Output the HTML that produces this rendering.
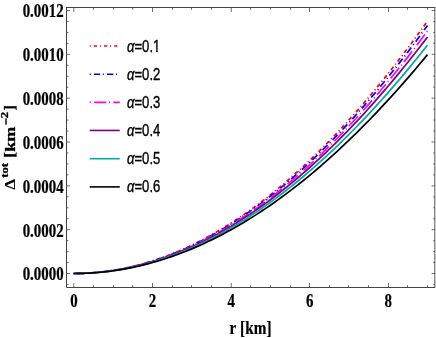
<!DOCTYPE html>
<html><head><meta charset="utf-8"><title>plot</title>
<style>
html,body{margin:0;padding:0;background:#fff;}
body{width:436px;height:338px;overflow:hidden;}
svg{display:block;will-change:transform;}
.tl{font-family:"Liberation Serif",serif;font-weight:bold;font-size:14.90px;fill:#000;stroke:#000;stroke-width:0.18px;}
.yl{font-family:"Liberation Serif",serif;font-weight:bold;fill:#000;stroke:#000;stroke-width:0.3px;}
.lg{font-family:"Liberation Sans",sans-serif;font-size:13.1px;fill:#000;stroke:#000;stroke-width:0.3px;}
</style></head><body>
<svg width="436" height="338" viewBox="0 0 436 338">
<rect width="436" height="338" fill="#fff"/>
<path d="M74.00,273.50 L77.93,273.47 L81.86,273.37 L85.78,273.22 L89.71,272.99 L93.64,272.71 L97.57,272.36 L101.50,271.95 L105.42,271.48 L109.35,270.94 L113.28,270.34 L117.21,269.68 L121.14,268.95 L125.06,268.16 L128.99,267.31 L132.92,266.39 L136.85,265.41 L140.78,264.37 L144.70,263.27 L148.63,262.10 L152.56,260.87 L156.49,259.58 L160.42,258.22 L164.34,256.80 L168.27,255.32 L172.20,253.77 L176.13,252.16 L180.06,250.49 L183.98,248.76 L187.91,246.96 L191.84,245.10 L195.77,243.18 L199.70,241.20 L203.62,239.15 L207.55,237.04 L211.48,234.87 L215.41,232.64 L219.34,230.34 L223.26,227.98 L227.19,225.56 L231.12,223.08 L235.05,220.53 L238.98,217.93 L242.90,215.26 L246.83,212.52 L250.76,209.73 L254.69,206.88 L258.62,203.96 L262.54,200.98 L266.47,197.94 L270.40,194.84 L274.33,191.67 L278.26,188.45 L282.18,185.16 L286.11,181.81 L290.04,178.40 L293.97,174.93 L297.90,171.40 L301.82,167.81 L305.75,164.15 L309.68,160.44 L313.61,156.66 L317.54,152.83 L321.46,148.93 L325.39,144.97 L329.32,140.95 L333.25,136.87 L337.18,132.73 L341.10,128.53 L345.03,124.27 L348.96,119.95 L352.89,115.57 L356.82,111.13 L360.74,106.63 L364.67,102.07 L368.60,97.45 L372.53,92.77 L376.46,88.03 L380.38,83.24 L384.31,78.38 L388.24,73.46 L392.17,68.49 L396.10,63.45 L400.02,58.36 L403.95,53.21 L407.88,48.00 L411.81,42.73 L415.74,37.40 L419.66,32.01 L423.59,26.57 L427.52,21.07" fill="none" stroke="#ff0000" stroke-width="1.72" stroke-dasharray="4.2 2.8 1.1 2.82" stroke-dashoffset="3.59"/>
<path d="M74.00,273.50 L77.93,273.47 L81.86,273.38 L85.78,273.22 L89.71,273.00 L93.64,272.72 L97.57,272.38 L101.50,271.98 L105.42,271.51 L109.35,270.99 L113.28,270.40 L117.21,269.74 L121.14,269.03 L125.06,268.25 L128.99,267.42 L132.92,266.52 L136.85,265.55 L140.78,264.53 L144.70,263.44 L148.63,262.30 L152.56,261.09 L156.49,259.82 L160.42,258.48 L164.34,257.09 L168.27,255.63 L172.20,254.11 L176.13,252.53 L180.06,250.89 L183.98,249.19 L187.91,247.42 L191.84,245.60 L195.77,243.71 L199.70,241.76 L203.62,239.75 L207.55,237.67 L211.48,235.54 L215.41,233.34 L219.34,231.09 L223.26,228.77 L227.19,226.39 L231.12,223.95 L235.05,221.45 L238.98,218.89 L242.90,216.27 L246.83,213.58 L250.76,210.84 L254.69,208.03 L258.62,205.16 L262.54,202.24 L266.47,199.25 L270.40,196.20 L274.33,193.09 L278.26,189.92 L282.18,186.69 L286.11,183.40 L290.04,180.05 L293.97,176.64 L297.90,173.17 L301.82,169.64 L305.75,166.05 L309.68,162.40 L313.61,158.69 L317.54,154.92 L321.46,151.09 L325.39,147.20 L329.32,143.26 L333.25,139.25 L337.18,135.18 L341.10,131.06 L345.03,126.87 L348.96,122.63 L352.89,118.32 L356.82,113.96 L360.74,109.54 L364.67,105.06 L368.60,100.52 L372.53,95.93 L376.46,91.27 L380.38,86.56 L384.31,81.79 L388.24,76.96 L392.17,72.07 L396.10,67.12 L400.02,62.12 L403.95,57.06 L407.88,51.94 L411.81,46.76 L415.74,41.53 L419.66,36.24 L423.59,30.89 L427.52,25.49" fill="none" stroke="#0000ff" stroke-width="1.72" stroke-dasharray="7.0 3.05 1.2 3.05" stroke-dashoffset="1.15"/>
<path d="M74.00,273.50 L77.93,273.47 L81.86,273.38 L85.78,273.23 L89.71,273.01 L93.64,272.74 L97.57,272.41 L101.50,272.01 L105.42,271.56 L109.35,271.04 L113.28,270.46 L117.21,269.83 L121.14,269.13 L125.06,268.37 L128.99,267.55 L132.92,266.67 L136.85,265.73 L140.78,264.73 L144.70,263.67 L148.63,262.54 L152.56,261.36 L156.49,260.12 L160.42,258.81 L164.34,257.45 L168.27,256.02 L172.20,254.54 L176.13,252.99 L180.06,251.39 L183.98,249.72 L187.91,248.00 L191.84,246.21 L195.77,244.36 L199.70,242.46 L203.62,240.49 L207.55,238.46 L211.48,236.37 L215.41,234.23 L219.34,232.02 L223.26,229.75 L227.19,227.43 L231.12,225.04 L235.05,222.60 L238.98,220.09 L242.90,217.53 L246.83,214.90 L250.76,212.22 L254.69,209.47 L258.62,206.67 L262.54,203.81 L266.47,200.89 L270.40,197.91 L274.33,194.87 L278.26,191.77 L282.18,188.61 L286.11,185.39 L290.04,182.12 L293.97,178.78 L297.90,175.39 L301.82,171.94 L305.75,168.43 L309.68,164.86 L313.61,161.23 L317.54,157.54 L321.46,153.80 L325.39,150.00 L329.32,146.14 L333.25,142.22 L337.18,138.24 L341.10,134.21 L345.03,130.12 L348.96,125.97 L352.89,121.76 L356.82,117.49 L360.74,113.17 L364.67,108.79 L368.60,104.36 L372.53,99.86 L376.46,95.31 L380.38,90.70 L384.31,86.04 L388.24,81.32 L392.17,76.54 L396.10,71.71 L400.02,66.81 L403.95,61.87 L407.88,56.86 L411.81,51.81 L415.74,46.69 L419.66,41.52 L423.59,36.29 L427.52,31.01" fill="none" stroke="#ff00ff" stroke-width="1.72" stroke-dasharray="13.5 3.05 1.1 3.48" stroke-dashoffset="17.24"/>
<path d="M73.40,273.50 L74.00,273.50 L77.93,273.47 L81.86,273.38 L85.78,273.23 L89.71,273.03 L93.64,272.76 L97.57,272.43 L101.50,272.05 L105.42,271.60 L109.35,271.10 L113.28,270.54 L117.21,269.91 L121.14,269.23 L125.06,268.49 L128.99,267.69 L132.92,266.83 L136.85,265.92 L140.78,264.94 L144.70,263.90 L148.63,262.81 L152.56,261.65 L156.49,260.44 L160.42,259.17 L164.34,257.84 L168.27,256.45 L172.20,255.00 L176.13,253.49 L180.06,251.92 L183.98,250.30 L187.91,248.61 L191.84,246.87 L195.77,245.07 L199.70,243.21 L203.62,241.29 L207.55,239.31 L211.48,237.27 L215.41,235.18 L219.34,233.03 L223.26,230.81 L227.19,228.54 L231.12,226.22 L235.05,223.83 L238.98,221.39 L242.90,218.88 L246.83,216.32 L250.76,213.70 L254.69,211.03 L258.62,208.29 L262.54,205.50 L266.47,202.65 L270.40,199.74 L274.33,196.78 L278.26,193.75 L282.18,190.67 L286.11,187.53 L290.04,184.34 L293.97,181.08 L297.90,177.77 L301.82,174.41 L305.75,170.98 L309.68,167.50 L313.61,163.96 L317.54,160.37 L321.46,156.71 L325.39,153.00 L329.32,149.24 L333.25,145.42 L337.18,141.54 L341.10,137.60 L345.03,133.61 L348.96,129.56 L352.89,125.46 L356.82,121.30 L360.74,117.08 L364.67,112.81 L368.60,108.49 L372.53,104.10 L376.46,99.66 L380.38,95.17 L384.31,90.62 L388.24,86.02 L392.17,81.36 L396.10,76.64 L400.02,71.87 L403.95,67.05 L407.88,62.17 L411.81,57.24 L415.74,52.25 L419.66,47.20 L423.59,42.11 L427.52,36.96" fill="none" stroke="#800080" stroke-width="1.72"/>
<path d="M73.40,273.50 L74.00,273.50 L77.93,273.47 L81.86,273.39 L85.78,273.24 L89.71,273.04 L93.64,272.78 L97.57,272.47 L101.50,272.10 L105.42,271.67 L109.35,271.18 L113.28,270.64 L117.21,270.04 L121.14,269.38 L125.06,268.66 L128.99,267.89 L132.92,267.06 L136.85,266.17 L140.78,265.23 L144.70,264.23 L148.63,263.17 L152.56,262.05 L156.49,260.88 L160.42,259.65 L164.34,258.37 L168.27,257.02 L172.20,255.62 L176.13,254.17 L180.06,252.65 L183.98,251.08 L187.91,249.45 L191.84,247.77 L195.77,246.03 L199.70,244.23 L203.62,242.38 L207.55,240.47 L211.48,238.50 L215.41,236.48 L219.34,234.40 L223.26,232.26 L227.19,230.07 L231.12,227.82 L235.05,225.51 L238.98,223.15 L242.90,220.74 L246.83,218.26 L250.76,215.73 L254.69,213.15 L258.62,210.50 L262.54,207.81 L266.47,205.05 L270.40,202.24 L274.33,199.38 L278.26,196.46 L282.18,193.48 L286.11,190.45 L290.04,187.37 L293.97,184.22 L297.90,181.03 L301.82,177.78 L305.75,174.47 L309.68,171.11 L313.61,167.69 L317.54,164.22 L321.46,160.69 L325.39,157.11 L329.32,153.47 L333.25,149.78 L337.18,146.03 L341.10,142.23 L345.03,138.38 L348.96,134.47 L352.89,130.51 L356.82,126.49 L360.74,122.42 L364.67,118.30 L368.60,114.12 L372.53,109.89 L376.46,105.60 L380.38,101.26 L384.31,96.87 L388.24,92.43 L392.17,87.93 L396.10,83.38 L400.02,78.77 L403.95,74.12 L407.88,69.41 L411.81,64.64 L415.74,59.83 L419.66,54.96 L423.59,50.04 L427.52,45.07" fill="none" stroke="#00aaaa" stroke-width="1.72"/>
<path d="M73.40,273.50 L74.00,273.50 L77.93,273.47 L81.86,273.39 L85.78,273.25 L89.71,273.06 L93.64,272.81 L97.57,272.51 L101.50,272.15 L105.42,271.74 L109.35,271.28 L113.28,270.75 L117.21,270.18 L121.14,269.55 L125.06,268.86 L128.99,268.12 L132.92,267.32 L136.85,266.47 L140.78,265.57 L144.70,264.61 L148.63,263.59 L152.56,262.52 L156.49,261.40 L160.42,260.22 L164.34,258.99 L168.27,257.70 L172.20,256.36 L176.13,254.96 L180.06,253.51 L183.98,252.00 L187.91,250.44 L191.84,248.83 L195.77,247.16 L199.70,245.44 L203.62,243.66 L207.55,241.83 L211.48,239.94 L215.41,238.00 L219.34,236.01 L223.26,233.96 L227.19,231.86 L231.12,229.70 L235.05,227.49 L238.98,225.22 L242.90,222.91 L246.83,220.54 L250.76,218.11 L254.69,215.63 L258.62,213.10 L262.54,210.51 L266.47,207.87 L270.40,205.18 L274.33,202.44 L278.26,199.64 L282.18,196.78 L286.11,193.88 L290.04,190.92 L293.97,187.91 L297.90,184.84 L301.82,181.73 L305.75,178.56 L309.68,175.33 L313.61,172.06 L317.54,168.73 L321.46,165.35 L325.39,161.92 L329.32,158.43 L333.25,154.90 L337.18,151.31 L341.10,147.67 L345.03,143.97 L348.96,140.23 L352.89,136.43 L356.82,132.58 L360.74,128.68 L364.67,124.73 L368.60,120.73 L372.53,116.67 L376.46,112.57 L380.38,108.41 L384.31,104.20 L388.24,99.95 L392.17,95.64 L396.10,91.28 L400.02,86.87 L403.95,82.40 L407.88,77.89 L411.81,73.33 L415.74,68.72 L419.66,64.06 L423.59,59.35 L427.52,54.58" fill="none" stroke="#000000" stroke-width="1.72"/>
<g stroke="#444" stroke-width="1" fill="none" shape-rendering="auto">
<path d="M66.50,7.00V287.50H435.30M66.50,7.50H435.30"/>
<path d="M434.80,7.50V287.50" stroke="#555"/>
<path d="M73.80,287.50v-4.50M73.80,7.50v4.50M93.50,287.50v-2.30M93.50,7.50v2.30M113.50,287.50v-2.30M113.50,7.50v2.30M132.70,287.50v-2.30M132.70,7.50v2.30M152.50,287.50v-4.50M152.50,7.50v4.50M172.50,287.50v-2.30M172.50,7.50v2.30M191.50,287.50v-2.30M191.50,7.50v2.30M211.50,287.50v-2.30M211.50,7.50v2.30M231.25,287.50v-4.50M231.25,7.50v4.50M250.50,287.50v-2.30M250.50,7.50v2.30M270.50,287.50v-2.30M270.50,7.50v2.30M290.50,287.50v-2.30M290.50,7.50v2.30M309.50,287.50v-4.50M309.50,7.50v4.50M329.50,287.50v-2.30M329.50,7.50v2.30M348.50,287.50v-2.30M348.50,7.50v2.30M368.50,287.50v-2.30M368.50,7.50v2.30M388.50,287.50v-4.50M388.50,7.50v4.50M407.50,287.50v-2.30M407.50,7.50v2.30M427.50,287.50v-2.30M427.50,7.50v2.30M66.50,284.46h2.00M434.80,284.46h-1.60M66.50,273.50h3.50M434.80,273.50h-3.10M66.50,262.54h2.00M434.80,262.54h-1.60M66.50,251.58h2.00M434.80,251.58h-1.60M66.50,240.62h2.00M434.80,240.62h-1.60M66.50,229.67h3.50M434.80,229.67h-3.10M66.50,218.71h2.00M434.80,218.71h-1.60M66.50,207.75h2.00M434.80,207.75h-1.60M66.50,196.79h2.00M434.80,196.79h-1.60M66.50,185.83h3.50M434.80,185.83h-3.10M66.50,174.87h2.00M434.80,174.87h-1.60M66.50,163.92h2.00M434.80,163.92h-1.60M66.50,152.96h2.00M434.80,152.96h-1.60M66.50,142.00h3.50M434.80,142.00h-3.10M66.50,131.04h2.00M434.80,131.04h-1.60M66.50,120.08h2.00M434.80,120.08h-1.60M66.50,109.12h2.00M434.80,109.12h-1.60M66.50,98.17h3.50M434.80,98.17h-3.10M66.50,87.21h2.00M434.80,87.21h-1.60M66.50,76.25h2.00M434.80,76.25h-1.60M66.50,65.29h2.00M434.80,65.29h-1.60M66.50,54.33h3.50M434.80,54.33h-3.10M66.50,43.37h2.00M434.80,43.37h-1.60M66.50,32.42h2.00M434.80,32.42h-1.60M66.50,21.46h2.00M434.80,21.46h-1.60M66.50,10.50h3.50M434.80,10.50h-3.10" stroke-width="0.75" stroke="#3a3a3a"/>
</g>
<text class="tl" text-anchor="middle" transform="translate(74.00,307.10) scale(1,1.306)">0</text>
<text class="tl" text-anchor="middle" transform="translate(152.56,307.10) scale(1,1.306)">2</text>
<text class="tl" text-anchor="middle" transform="translate(231.12,307.10) scale(1,1.306)">4</text>
<text class="tl" text-anchor="middle" transform="translate(309.68,307.10) scale(1,1.306)">6</text>
<text class="tl" text-anchor="middle" transform="translate(388.24,307.10) scale(1,1.306)">8</text>
<text class="tl" text-anchor="end" transform="translate(63.60,280.40) scale(1,1.306)">0.0000</text>
<text class="tl" text-anchor="end" transform="translate(63.60,236.57) scale(1,1.306)">0.0002</text>
<text class="tl" text-anchor="end" transform="translate(63.60,192.73) scale(1,1.306)">0.0004</text>
<text class="tl" text-anchor="end" transform="translate(63.60,148.90) scale(1,1.306)">0.0006</text>
<text class="tl" text-anchor="end" transform="translate(63.60,105.07) scale(1,1.306)">0.0008</text>
<text class="tl" text-anchor="end" transform="translate(63.60,61.23) scale(1,1.306)">0.0010</text>
<text class="tl" text-anchor="end" transform="translate(63.60,17.40) scale(1,1.306)">0.0012</text>
<text class="tl" style="font-size:15.2px" text-anchor="middle" letter-spacing="0.12" transform="translate(250.70,333.90) scale(1,1.170)">r [km]</text>
<text class="yl" style="stroke-width:0.05px" font-size="15.20px" transform="translate(15.10,189.64) scale(1,1.137) rotate(-90)">Δ</text>
<text class="yl" style="stroke-width:0.30px" font-size="10.90px" transform="translate(8.20,177.80) scale(1,1.169) rotate(-90)">tot</text>
<text class="yl" style="stroke-width:0.30px" font-size="14.70px" transform="translate(14.30,157.73) scale(1,1.186) rotate(-90)">[</text>
<text class="yl" style="stroke-width:0.30px" font-size="15.20px" transform="translate(15.10,151.73) scale(1,1.186) rotate(-90)">km</text>
<rect x="5.3" y="118.3" width="1.4" height="6.4" fill="#000"/>
<text class="yl" style="stroke-width:0.30px" font-size="10.90px" transform="translate(8.40,118.24) scale(1,1.170) rotate(-90)">2</text>
<text class="yl" style="stroke-width:0.30px" font-size="14.70px" transform="translate(14.30,110.45) scale(1,1.100) rotate(-90)">]</text>
<path d="M89.7,46.00H117.5" stroke="#ff0000" stroke-width="1.6" fill="none" stroke-dasharray="1.1 3.0 3.2 2.9"/>
<clipPath id="c1"><path d="M-1,-12H8V-1.35H4.65V0.6H3.1V-1.35H-1Z"/></clipPath>
<text class="lg" transform="translate(127.0,51.70) scale(1,1.2)"><tspan font-style="italic">α</tspan>=0.</text>
<text class="lg" clip-path="url(#c1)" transform="translate(153.05,51.70) scale(1,1.2)">1</text>
<path d="M89.7,74.20H117.5" stroke="#0000ff" stroke-width="1.6" fill="none" stroke-dasharray="1.1 3.1 6.3 2.6"/>
<text class="lg" transform="translate(127.0,79.72) scale(1,1.2)"><tspan font-style="italic">α</tspan>=0.2</text>
<path d="M89.7,102.40H119.8" stroke="#ff00ff" stroke-width="1.6" fill="none" stroke-dasharray="1 3.4 12.2 2.7"/>
<text class="lg" transform="translate(127.0,107.74) scale(1,1.2)"><tspan font-style="italic">α</tspan>=0.3</text>
<path d="M89.7,130.45H119.8" stroke="#800080" stroke-width="1.6" fill="none"/>
<text class="lg" transform="translate(127.0,135.76) scale(1,1.2)"><tspan font-style="italic">α</tspan>=0.4</text>
<path d="M89.7,158.70H119.8" stroke="#00aaaa" stroke-width="1.6" fill="none"/>
<text class="lg" transform="translate(127.0,163.78) scale(1,1.2)"><tspan font-style="italic">α</tspan>=0.5</text>
<path d="M89.7,186.90H119.8" stroke="#000000" stroke-width="1.6" fill="none"/>
<text class="lg" transform="translate(127.0,191.80) scale(1,1.2)"><tspan font-style="italic">α</tspan>=0.6</text>
</svg>
</body></html>
